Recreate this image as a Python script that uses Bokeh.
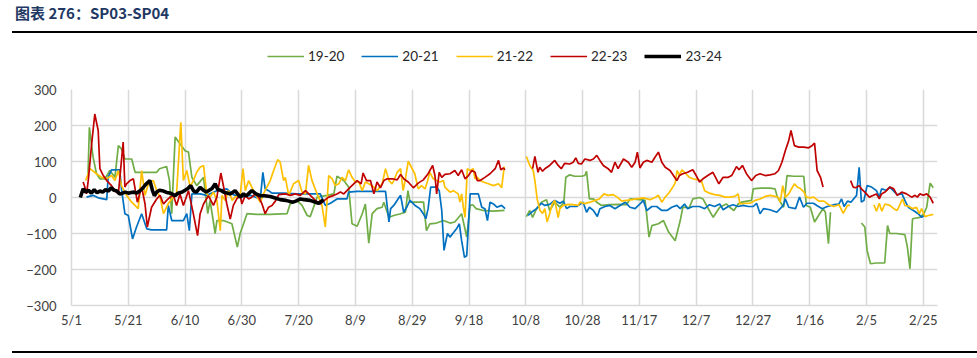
import math
from bokeh.plotting import figure
from bokeh.models import Range1d, FixedTicker, Legend, LegendItem, Div
from bokeh.layouts import column
from bokeh.embed import file_html
from bokeh.resources import INLINE

NAN = float("nan")

title_text = "图表 276：SP03-SP04"
tick_days = [0, 20, 40, 60, 80, 100, 120, 140, 160, 180, 200, 220, 240, 260, 280, 300]
tick_labels = ["5/1", "5/21", "6/10", "6/30", "7/20", "8/9", "8/29", "9/18", "10/8",
               "10/28", "11/17", "12/7", "12/27", "1/16", "2/5", "2/25"]
y_ticks = [-300, -200, -100, 0, 100, 200, 300]
series_names = ["19-20", "20-21", "21-22", "22-23", "23-24"]
series_colors = ["#70AD47", "#0070C0", "#FFC000", "#C00000", "#000000"]

# (day since 5/1, value); NAN marks holiday gaps
s1920 = [(5.8, 60), (6.3, 195), (7.6, 112), (8.8, 66), (10, 52), (11.8, 52), (13.5, 75), (15.3, 56),
         (16.5, 144), (17.6, 135), (18.8, 107), (21.2, 107), (22.4, 70), (26.5, 70), (30, 70), (31, 80),
         (33.5, 86), (34.5, 47), (35.3, -45), (36.5, 168), (38.2, 149), (40, 130), (41.2, 126), (42.4, 56),
         (44.1, 33), (46.5, 56), (48, -45), (48.8, -8), (50.6, -100), (51.2, -64), (53.5, -64), (56.5, -73),
         (58.4, -138), (59.4, -100), (60.6, -73), (61.8, -45), (65.3, -47), (70, -47), (75.9, -45), (77, -18),
         (79.4, -8), (81.2, -22), (83, -50), (84.1, -53), (86.5, 1), (90, 6), (92.4, 10), (93.5, 59),
         (95.9, 47), (97.6, 29), (98.8, -73), (100.6, -80), (102.4, -45), (103.5, -18), (104.7, -127),
         (105.9, -45), (107.6, -31), (109.4, -27), (110, -13), (111.8, -55), (113.5, -50), (115.9, -45),
         (117.6, -41), (118.5, 19), (119.2, -13), (121, -13), (124, -13), (125, -92), (126.2, -73),
         (128.6, -71), (131, -64), (133.3, -71), (135, -68), (137.4, -45), (139.2, -110), (140.4, -22),
         (141.3, -20), (142.5, -31), (145, -36), (148.5, -38), (152.5, -36), (156, NAN),
         (160.2, -53), (161.4, -36), (162.4, -55), (163.8, -31), (165.5, -13), (167.3, -6), (168.4, -36),
         (170.2, -13), (172, -27), (173.4, -13), (174.1, 56), (175.5, 63), (177.2, 59), (179.6, 59),
         (180.8, 61), (181.4, 73), (182.4, -4), (183.8, -4), (185, -13), (186.7, -22), (189.6, -20),
         (193.2, -19), (195.5, -20), (196.7, -4), (200.2, -6), (202, -8), (202.6, -50), (203.4, -110),
         (204.4, -78), (206.7, -73), (208.5, -64), (210.3, -96), (212.6, -120), (214.4, -64), (215.3, -27),
         (217.6, -28), (218.8, -4), (221.2, 0), (222.4, -4), (224, -27), (226, -55), (228.3, -27),
         (230.6, -18), (231.8, -27), (233.3, -36), (234.8, -18), (236, -13), (239.5, -8), (240.1, 24),
         (242.5, 26), (246, 26), (247.8, 24), (248.6, 1), (250.8, -27), (252, 61), (254.4, 59), (257.9, 59),
         (258.8, -22), (260.2, -27), (261.7, -68), (263.5, -45), (264.7, -31), (265.5, -41), (266.6, -128),
         (267.3, -41), (272, NAN),
         (278.2, -71), (279.4, -82), (280.2, -147), (281.4, -184), (283.5, -182), (286.4, -182), (287.4, -78),
         (288.2, -100), (290.6, -100), (293.5, -103), (294.4, -138), (295.3, -198), (296.2, -59),
         (298.8, -55), (300.2, -45), (301.2, -27), (302.4, 40), (303.5, 27)]

s2021 = [(5.3, 1), (7.6, 6), (9.4, -1), (11.2, -4), (12.4, -6), (12.9, 56), (14.1, 77), (17, 77), (17.6, 24),
         (18.8, -45), (20, -50), (21.5, -115), (22.9, -82), (24.7, -45), (26.5, -87), (28.2, -90), (33.5, -90),
         (34.1, -22), (35.3, -64), (39.4, -64), (40.6, -45), (41.5, -92), (42.4, 10), (45.3, 10), (47.6, 6),
         (51.2, 19), (54.7, 24), (57, 8), (59.4, 1), (63, 6), (66.5, -4), (67.4, 70), (68.2, 24), (69.4, 19),
         (70.6, 12), (74.7, 12), (79.4, 10), (84.1, 10), (87.6, 10), (89.4, -22), (91.2, -16), (93.5, -4),
         (97, -4), (97.6, 15), (100.6, 17), (104.1, 17), (107.6, 17), (110.6, 17), (111.8, -68), (112.4, -31),
         (113.5, -22), (115.9, 6), (117, -41), (118.2, -25), (119.2, -8), (121, -22), (122.7, -31),
         (123.9, -45), (124.8, -59), (125.6, -31), (126.5, 29), (128.6, 29), (129.5, 19), (130.4, -36),
         (131.2, -147), (132.4, -100), (133.3, -110), (134.7, -96), (135.6, -87), (136.6, -73), (137.4, -120),
         (138.4, -166), (139.2, -162), (140.4, 10), (142.1, 10), (143.3, 10), (144.5, -27), (145.6, -31),
         (146.5, -64), (147.4, -13), (148.6, -18), (149.8, -27), (151.5, -22), (152.7, -31), (156, NAN),
         (160.8, -50), (162, -41), (163.8, -31), (165.5, -16), (166.7, -22), (168.4, -19), (170.2, -8),
         (172, -16), (173.2, -10), (174.4, -31), (175.5, -25), (177.9, -25), (179.1, -19), (180.2, -13),
         (181.4, -41), (182.4, -27), (183.8, -36), (185.2, -53), (186.1, -31), (187.9, -25), (189.6, -22),
         (191.4, -31), (193.2, -22), (195, -13), (196.7, -27), (198.5, -31), (200.2, -18), (201.4, -8),
         (202.6, -36), (204.4, -25), (206.1, -25), (207.9, -36), (209.7, -36), (211.4, -27), (213.2, -22),
         (214.4, -31), (215.9, -18), (217, -31), (218.8, -25), (221.2, -25), (223, -31), (224.7, -20),
         (226.5, -25), (228.3, -18), (229.5, -34), (231.3, -25), (233, -20), (234.8, -25), (236.6, -22),
         (238.4, -25), (240.1, -25), (241.3, -16), (242.5, -45), (243.7, -31), (246, -34), (248.4, -41),
         (250.7, -22), (251.4, -4), (252.6, -27), (255, -31), (256.4, 1), (257.8, -27), (259, -16),
         (261.3, -16), (262.5, -22), (264.4, -31), (266.2, -25), (268.5, -20), (270.3, -18), (271.2, -4),
         (272.1, -25), (273.3, -10), (274.5, -13), (276.5, 6), (277.4, 84), (278.2, -13), (279.1, -8),
         (280.2, 33), (281.8, 29), (283.5, 19), (284.5, 1), (285.3, 24), (287, 20), (288.2, 29), (290.8, 8),
         (292.5, 10), (293.5, -8), (294.7, -27), (296.5, -36), (298.2, -45), (299.4, -55), (300.2, -50)]

s2122 = [(5, 47), (6.5, 80), (8.8, 66), (10.6, 56), (12.4, 52), (14.1, 61), (15.3, 47), (16.5, 75), (17.6, 33),
         (19.4, 6), (21.2, -13), (23.5, -31), (24.7, 75), (25.9, 6), (27.1, 38), (28.8, 47), (30, 19), (31.2, 1),
         (32.4, -45), (34.1, -17), (35.3, -4), (37, 10), (38.5, 209), (39.4, 47), (40.6, 75), (41.8, 29),
         (42.9, 47), (44.1, 70), (45.3, 84), (46.5, 89), (47.6, 10), (48.8, 1), (50, 15), (51.2, -8),
         (52.4, -92), (53, 6), (54.1, -8), (55.3, 19), (56.6, -8), (57.6, 1), (59.4, 6), (60.4, 80), (61.2, 19),
         (62.4, 47), (63.5, 29), (64.7, 10), (66.5, -13), (67.6, 10), (70, 47), (71.2, 75), (72.6, 105),
         (73.5, 98), (74.7, 47), (75.3, 56), (76.5, 6), (78.2, 38), (80, 47), (81.2, 15), (82.4, 10), (83.5, 89),
         (84.7, 47), (86.5, 10), (88.2, -22), (89.4, -82), (90.6, 61), (91.8, 52), (92.9, 33), (94.1, 38),
         (95.3, 56), (96.5, 47), (97.6, 77), (98.8, 56), (100, 43), (101.2, 43), (102.4, 19), (103.5, 43),
         (104.7, 38), (106.5, 29), (107.6, 19), (109.4, 38), (110.6, 80), (111.8, 47), (112.9, 38), (113.5, 47),
         (114.7, 70), (115.9, 80), (116.8, 19), (117.5, 47), (118.6, 101), (119.7, 84), (120.9, 66), (122.1, 24),
         (123.3, 33), (124.5, 24), (125.3, 43), (126.2, 70), (127.4, 52), (128.6, 47), (129.8, 43), (131, 47),
         (131.5, 29), (133.3, 15), (134.5, 19), (136.2, 10), (136.8, -13), (137.4, 10), (138, -27), (138.6, -55),
         (139.4, 80), (140.4, 75), (141.5, 80), (142.1, 52), (142.9, 56), (143.9, 47), (145, 43), (146.8, 38),
         (148.6, 33), (150.4, 38), (151.5, 27), (152.4, 86), (156, NAN),
         (160.2, 114), (161.4, 89), (162.6, 75), (163.2, 47), (164, -4), (165, -36), (165.9, -44), (166.7, -31),
         (167.5, -68), (168.4, -45), (169.3, -18), (170.2, -8), (171.4, -56), (172, -31), (173.2, -22),
         (175, -19), (176.7, -20), (178.5, -22), (179.1, -13), (180.8, -17), (182.6, -13), (184.4, -8),
         (185.9, -4), (187.5, 10), (189, 6), (190.8, 8), (192.2, 1), (193.8, -10), (195.5, -8), (197.3, -6),
         (199, -4), (201.4, -1), (203.8, -6), (205.5, 0), (206.7, 6), (207.9, -13), (209.1, 1), (210.3, 12),
         (211.4, 24), (212.6, 40), (213.3, 75), (214.1, 62), (215, 77), (216.4, 66), (217.6, 56), (218.8, 52),
         (220.6, 49), (221.8, 47), (223, 19), (224.7, 12), (226.5, 8), (228.3, 6), (230.1, 1), (231.8, 1),
         (233.6, 3), (234.8, 10), (235.4, -18), (237.2, -16), (239, -16), (240.8, -8), (242.5, -4), (244.3, 3),
         (246, 6), (247.8, 3), (249, 0), (249.6, -13), (250.5, 33), (251.4, 1), (252.6, 10), (253.8, 27),
         (254.6, 38), (255.6, 29), (256.8, 24), (258, 15), (258.8, 1), (260.2, -1), (261.4, 1), (263.2, -10),
         (265, -10), (266.7, -20), (268.5, -25), (270.3, -20), (271.8, -44), (273.3, -22), (274.2, -22),
         (278, NAN),
         (282.6, -20), (283.5, -38), (284.5, -16), (285.4, -38), (286.5, -18), (288.2, -22), (289.6, -31),
         (290.8, -36), (292.7, -4), (293.5, -22), (295, -25), (296.2, -31), (297.6, -27), (298.6, -45),
         (299.4, -31), (300.6, -53), (301.8, -50), (303.5, -47)]

s2223 = [(4.1, 43), (4.7, 29), (5.3, 10), (5.9, 47), (7.1, 149), (8.2, 232), (9.4, 186), (10, 80), (11.2, 61),
         (12.4, 47), (14.1, 33), (15.3, 19), (16.5, 10), (17.6, 103), (18.2, 154), (18.8, 29), (19.4, 38),
         (20.6, 47), (21.8, 52), (23.2, -13), (24.7, 29), (25.9, -18), (26.7, -82), (28.2, -27), (30, -4),
         (31.2, 6), (32.4, -18), (33.5, -8), (34.7, 1), (35.9, 6), (37, -22), (38.2, 10), (39.4, -22),
         (41.2, 19), (42.9, -45), (44.4, -106), (45.3, -45), (46.5, -18), (48.2, 5), (50, -22), (51.2, 1),
         (52.6, 68), (53.5, 33), (54.7, -18), (55.9, -60), (57, -22), (58.2, -4), (59.4, 6), (60, -18),
         (61.2, 6), (62.4, -4), (63.5, 1), (64.7, 10), (65.9, 1), (67.1, -18), (68.2, -45), (69.4, -27),
         (70.6, -22), (71.8, -10), (73, 8), (75.3, 10), (77.1, 6), (78.8, 10), (80.6, 6), (82.4, 19), (84.1, 6),
         (85.9, -8), (87.6, -18), (89.4, -6), (90.6, 1), (92.4, 6), (93.5, 10), (94.7, 15), (95.9, 10), (97, 19),
         (98.2, 29), (99.4, 38), (100.6, 47), (102, 38), (102.7, 68), (103.9, 47), (105.3, 47), (106.5, 10),
         (107.6, 43), (108.8, 27), (110, 47), (111.2, 52), (113, 52), (114.7, 49), (115.9, 64), (117, 52),
         (118.6, 43), (120.4, 27), (122.1, 40), (123.9, 49), (125.6, 66), (127.2, 89), (128, 61), (128.6, 10),
         (129.5, 70), (130.4, 56), (131.5, 64), (133.3, 66), (135, 75), (136.2, 61), (137.4, 77), (138.6, 52),
         (139.8, 61), (141, 75), (142.1, 70), (142.9, 47), (143.9, 47), (145.6, 56), (147.4, 66), (149.2, 80),
         (150.4, 103), (151.2, 77), (152.1, 82), (152.7, 77), (157, NAN),
         (162.4, 80), (163.2, 114), (164.3, 70), (164.9, 84), (165.9, 73), (166.7, 80), (168.4, 89),
         (170.2, 103), (171.4, 89), (172.5, 80), (173.7, 95), (175.5, 93), (176.7, 98), (177.6, 110),
         (178.5, 95), (179.6, 93), (180.8, 107), (182.6, 103), (183.8, 107), (185, 117), (186.1, 103),
         (187.3, 89), (189, 80), (190.2, 70), (191.4, 98), (192.5, 80), (194.4, 107), (196.1, 98), (197.3, 84),
         (198.5, 98), (199.3, 126), (200.2, 82), (201.4, 98), (202.6, 103), (204.4, 98), (205.5, 112),
         (206.7, 126), (207.9, 98), (209.1, 84), (210.8, 75), (212, 61), (213.2, 47), (214.1, 61), (215.3, 66),
         (217, 70), (218.8, 77), (220, 61), (221.2, 43), (222.4, 52), (224.1, 61), (225.9, 70), (227.1, 52),
         (228, 38), (229.5, 56), (231.3, 56), (232.5, 61), (234.2, 86), (235.1, 77), (236.3, 89), (237.7, 66),
         (239.5, 47), (241, 61), (242.5, 66), (244.3, 61), (246, 63), (247.8, 66), (249, 75), (250.2, 98),
         (251.4, 130), (252.6, 158), (253.4, 186), (254.6, 144), (256.1, 140), (257.9, 140), (259.6, 138),
         (260.8, 144), (261.7, 151), (262.6, 75), (263.8, 56), (264.7, 29), (270, NAN),
         (274.4, 47), (275.3, 29), (276.2, 27), (277.4, 33), (278.2, 24), (279.4, 15), (281, 1), (282.4, 6),
         (283.5, 10), (284.5, -4), (285.3, 10), (286.5, 15), (288.2, 29), (289.6, 24), (290.8, 6), (292.4, 15),
         (294.1, 10), (295.9, 1), (297.1, 6), (297.9, 1), (298.8, 10), (300, 6), (301.2, 10), (302.4, 1),
         (303.5, -16)]

s2324 = [(3.1, 0), (4.1, 24), (5, 15), (6, 20), (7, 12), (8, 22), (9, 13), (10, 18), (11, 15), (12, 22),
         (13, 18), (14, 27), (15, 20), (16, 18), (17, 10), (18, 12), (19, 15), (20, 12), (21, 14), (22, 15),
         (23, 12), (24, 18), (25, 25), (26, 35), (27.6, 47), (28.5, 20), (29.2, 5), (30, 15), (31, 20),
         (32.4, 18), (33.5, 14), (35, 12), (36.5, 5), (37.5, 12), (39, 15), (40, 20), (41, 25), (42, 33),
         (43, 18), (44, 15), (45.3, 28), (46.5, 20), (47.5, 15), (48.5, 20), (49.5, 25), (50.6, 38), (51.5, 22),
         (52.5, 20), (53.5, 15), (55, 12), (56, 10), (57.6, 19), (59.4, 1), (60.6, 10), (61.5, 4), (63.5, 19),
         (65, 10), (66.5, 5), (68, 5), (70, 3), (72, -2), (73.5, -6), (75.5, -8), (78, -13), (79, -10),
         (80.6, -4), (82, -6), (84, -8), (85.5, -12), (87, -16), (88.8, -6)]

all_series = [s1920, s2021, s2122, s2223, s2324]
widths = [1.7, 1.7, 1.7, 1.7, 3.6]

# main chart
p = figure(width=977, height=269, x_range=Range1d(0, 305), y_range=Range1d(-300, 300),
           output_backend="svg", toolbar_location=None,
           min_border_left=71, min_border_right=40, min_border_top=8, min_border_bottom=45)
p.outline_line_color = None
p.background_fill_color = "white"

p.xaxis.ticker = FixedTicker(ticks=tick_days)
p.xaxis.major_label_overrides = {d: l for d, l in zip(tick_days, tick_labels)}
p.yaxis.ticker = FixedTicker(ticks=y_ticks)
for ax in (p.xaxis, p.yaxis):
    ax.axis_line_color = "#D9D9D9"
    ax.axis_line_width = 1.5
    ax.major_tick_line_color = None
    ax.minor_tick_line_color = None
    ax.major_tick_out = 0
    ax.major_tick_in = 0
    ax.major_label_text_font = "Lato"
    ax.major_label_text_font_size = "13px"
    ax.major_label_text_color = "#404040"
p.xaxis.major_label_standoff = 6
p.yaxis.major_label_standoff = 15
p.xgrid.ticker = FixedTicker(ticks=tick_days)
p.ygrid.ticker = FixedTicker(ticks=y_ticks)
p.grid.grid_line_color = "#D9D9D9"
p.grid.grid_line_width = 1.5

for name, col, w, s in zip(series_names, series_colors, widths, all_series):
    xs = [d for d, v in s]
    ys = [v for d, v in s]
    p.line(xs, ys, line_color=col, line_width=w)

# legend strip (its own small figure so the legend sits above the plot area)
lg = figure(width=977, height=48, x_range=Range1d(0, 1), y_range=Range1d(0, 1),
            output_backend="svg", toolbar_location=None,
            min_border_left=0, min_border_right=0, min_border_top=0, min_border_bottom=0,
            x_axis_location=None, y_axis_location=None)
lg.outline_line_color = None
lg.grid.visible = False
items = []
for name, col, w in zip(series_names, series_colors, widths):
    r = lg.line([NAN], [NAN], line_color=col, line_width=w)
    items.append(LegendItem(label=name, renderers=[r]))
legend = Legend(items=items, orientation="horizontal", location=(196, 17),
                label_text_font="Lato", label_text_font_size="13.5px", label_text_color="#262626",
                glyph_width=37, glyph_height=16, label_standoff=4, spacing=17,
                border_line_color=None, background_fill_alpha=0, padding=0, margin=0)
lg.add_layout(legend)

title_html = ('<div style="margin-left:12px; width:965px; height:33px; box-sizing:border-box; '
              'border-bottom:2px solid #000; padding-left:3px; padding-top:4px; line-height:18px; '
              'font-size:15px; font-weight:bold; color:#1F3864; '
              "font-family:'Noto Sans CJK SC', sans-serif;\">" + title_text + '</div>')
title_div = Div(text=title_html, width=977, height=33, margin=(0, 0, 0, 0))
bottom_div = Div(text="", width=965, height=2, margin=(1, 0, 0, 12),
                 styles={"background-color": "#000000"})

layout = column(title_div, lg, p, bottom_div, spacing=0)
open("out.html", "w").write(file_html(layout, INLINE))
